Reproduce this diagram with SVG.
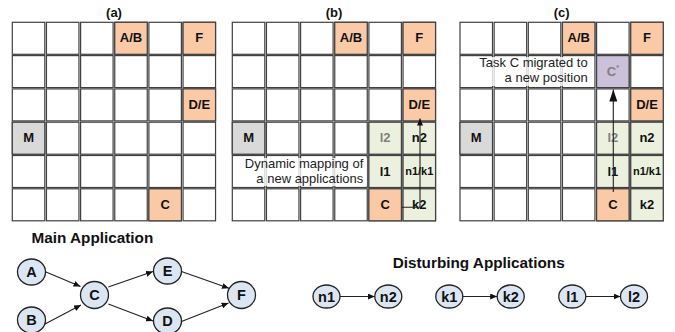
<svg xmlns="http://www.w3.org/2000/svg" xmlns:xlink="http://www.w3.org/1999/xlink" width="675" height="332" viewBox="0 0 675 332">
  <style>
    .cell { fill: #ffffff; stroke: #404040; stroke-width: 1.2; }
    .task { fill: #fac9a6; }
    .mgr { fill: #d9d9d9; }
    .dist { fill: #ebf1de; }
    .mig { fill: #ccc1da; }
    .lbl { font-family: "Liberation Sans", Arial, sans-serif; font-weight: bold; font-size: 13px; text-anchor: middle; fill: #111111; }
    .small { font-size: 11px; }
    .grey { fill: #808080; }
    .title { font-family: "Liberation Sans", Arial, sans-serif; font-weight: bold; font-size: 13px; text-anchor: middle; fill: #111111; }
    .note { font-family: "Liberation Sans", Arial, sans-serif; font-size: 13px; text-anchor: end; fill: #222222; }
    .veil { fill: #ffffff; opacity: 0.8; }
    .head { font-family: "Liberation Sans", Arial, sans-serif; font-weight: bold; font-size: 15.3px; fill: #111111; }
    .node { fill: #dce6f2; stroke: #222222; stroke-width: 1.3; }
    .nlbl { font-family: "Liberation Sans", Arial, sans-serif; font-weight: bold; font-size: 14.5px; text-anchor: middle; fill: #111111; }
    .edge { stroke: #222222; stroke-width: 1.1; fill: none; }
  </style>
  <defs>
    <marker id="arr" markerUnits="userSpaceOnUse" markerWidth="8" markerHeight="6" refX="7" refY="3" orient="auto">
      <path d="M0,0 L7,3 L0,6 z" fill="#111111"/>
    </marker>
    <marker id="arrBig" markerUnits="userSpaceOnUse" markerWidth="13" markerHeight="8" refX="12" refY="4" orient="auto">
      <path d="M0,0 L12,4 L0,8 z" fill="#111111"/>
    </marker>
    <!-- one 6x6 mesh of white tiles -->
    <g id="mesh">
      <rect class="cell" x="0" y="0" width="32.5" height="32"/>
      <rect class="cell" x="34.15" y="0" width="32.5" height="32"/>
      <rect class="cell" x="68.3" y="0" width="32.5" height="32"/>
      <rect class="cell" x="102.45" y="0" width="32.5" height="32"/>
      <rect class="cell" x="136.6" y="0" width="32.5" height="32"/>
      <rect class="cell" x="170.75" y="0" width="32.5" height="32"/>
      <rect class="cell" x="0" y="33.3" width="32.5" height="32"/>
      <rect class="cell" x="34.15" y="33.3" width="32.5" height="32"/>
      <rect class="cell" x="68.3" y="33.3" width="32.5" height="32"/>
      <rect class="cell" x="102.45" y="33.3" width="32.5" height="32"/>
      <rect class="cell" x="136.6" y="33.3" width="32.5" height="32"/>
      <rect class="cell" x="170.75" y="33.3" width="32.5" height="32"/>
      <rect class="cell" x="0" y="66.6" width="32.5" height="32"/>
      <rect class="cell" x="34.15" y="66.6" width="32.5" height="32"/>
      <rect class="cell" x="68.3" y="66.6" width="32.5" height="32"/>
      <rect class="cell" x="102.45" y="66.6" width="32.5" height="32"/>
      <rect class="cell" x="136.6" y="66.6" width="32.5" height="32"/>
      <rect class="cell" x="170.75" y="66.6" width="32.5" height="32"/>
      <rect class="cell" x="0" y="99.9" width="32.5" height="32"/>
      <rect class="cell" x="34.15" y="99.9" width="32.5" height="32"/>
      <rect class="cell" x="68.3" y="99.9" width="32.5" height="32"/>
      <rect class="cell" x="102.45" y="99.9" width="32.5" height="32"/>
      <rect class="cell" x="136.6" y="99.9" width="32.5" height="32"/>
      <rect class="cell" x="170.75" y="99.9" width="32.5" height="32"/>
      <rect class="cell" x="0" y="133.2" width="32.5" height="32"/>
      <rect class="cell" x="34.15" y="133.2" width="32.5" height="32"/>
      <rect class="cell" x="68.3" y="133.2" width="32.5" height="32"/>
      <rect class="cell" x="102.45" y="133.2" width="32.5" height="32"/>
      <rect class="cell" x="136.6" y="133.2" width="32.5" height="32"/>
      <rect class="cell" x="170.75" y="133.2" width="32.5" height="32"/>
      <rect class="cell" x="0" y="166.5" width="32.5" height="32"/>
      <rect class="cell" x="34.15" y="166.5" width="32.5" height="32"/>
      <rect class="cell" x="68.3" y="166.5" width="32.5" height="32"/>
      <rect class="cell" x="102.45" y="166.5" width="32.5" height="32"/>
      <rect class="cell" x="136.6" y="166.5" width="32.5" height="32"/>
      <rect class="cell" x="170.75" y="166.5" width="32.5" height="32"/>
    </g>
  </defs>

  <rect x="0" y="0" width="675" height="332" fill="#ffffff"/>

  <!-- panel (a): initial mapping -->
  <g id="panel-a">
    <text class="title" x="114" y="16.5">(a)</text>
    <use xlink:href="#mesh" href="#mesh" x="12.3" y="22.3"/>
    <rect class="cell task" x="114.75" y="22.3" width="32.5" height="32"/>
    <text class="lbl" x="131" y="42.3">A/B</text>
    <rect class="cell task" x="183.05" y="22.3" width="32.5" height="32"/>
    <text class="lbl" x="199.3" y="42.3">F</text>
    <rect class="cell task" x="183.05" y="88.9" width="32.5" height="32"/>
    <text class="lbl" x="199.3" y="108.9">D/E</text>
    <rect class="cell mgr" x="12.3" y="122.2" width="32.5" height="32"/>
    <text class="lbl" x="28.55" y="142.2">M</text>
    <rect class="cell task" x="148.9" y="188.8" width="32.5" height="32"/>
    <text class="lbl" x="165.15" y="208.8">C</text>
  </g>

  <!-- panel (b): disturbing applications mapped -->
  <g id="panel-b">
    <text class="title" x="334" y="16.5">(b)</text>
    <use xlink:href="#mesh" href="#mesh" x="232.3" y="22.3"/>
    <rect class="cell task" x="334.75" y="22.3" width="32.5" height="32"/>
    <text class="lbl" x="351" y="42.3">A/B</text>
    <rect class="cell task" x="403.05" y="22.3" width="32.5" height="32"/>
    <text class="lbl" x="419.3" y="42.3">F</text>
    <rect class="cell task" x="403.05" y="88.9" width="32.5" height="32"/>
    <text class="lbl" x="419.3" y="108.9">D/E</text>
    <rect class="cell mgr" x="232.3" y="122.2" width="32.5" height="32"/>
    <text class="lbl" x="248.55" y="142.2">M</text>
    <rect class="cell dist" x="368.9" y="122.2" width="32.5" height="32"/>
    <text class="lbl grey" x="385.15" y="142.2">l2</text>
    <rect class="cell dist" x="403.05" y="122.2" width="32.5" height="32"/>
    <text class="lbl" x="419.3" y="142.2">n2</text>
    <rect class="cell dist" x="368.9" y="155.5" width="32.5" height="32"/>
    <text class="lbl" x="385.15" y="175.5">l1</text>
    <rect class="cell dist" x="403.05" y="155.5" width="32.5" height="32"/>
    <text class="lbl small" x="419.3" y="175">n1/k1</text>
    <rect class="cell task" x="368.9" y="188.8" width="32.5" height="32"/>
    <text class="lbl" x="385.15" y="208.8">C</text>
    <rect class="cell dist" x="403.05" y="188.8" width="32.5" height="32"/>
    <text class="lbl" x="419.3" y="208.8">k2</text>
    <rect class="veil" x="243" y="158" width="124" height="28"/>
    <text class="note" x="363.3" y="167.7">Dynamic mapping of</text>
    <text class="note" x="363.3" y="182.7">a new applications</text>
  </g>

  <!-- panel (c): task C migrated -->
  <g id="panel-c">
    <text class="title" x="561.6" y="16.5">(c)</text>
    <use xlink:href="#mesh" href="#mesh" x="460" y="22.3"/>
    <rect class="cell task" x="562.45" y="22.3" width="32.5" height="32"/>
    <text class="lbl" x="578.7" y="42.3">A/B</text>
    <rect class="cell task" x="630.75" y="22.3" width="32.5" height="32"/>
    <text class="lbl" x="647" y="42.3">F</text>
    <rect class="cell mig" x="596.6" y="55.6" width="32.5" height="32"/>
    <text class="lbl grey" x="612.85" y="75.6">C<tspan font-size="7" dy="-6">*</tspan></text>
    <rect class="cell task" x="630.75" y="88.9" width="32.5" height="32"/>
    <text class="lbl" x="647" y="108.9">D/E</text>
    <rect class="cell mgr" x="460" y="122.2" width="32.5" height="32"/>
    <text class="lbl" x="476.25" y="142.2">M</text>
    <rect class="cell dist" x="596.6" y="122.2" width="32.5" height="32"/>
    <text class="lbl grey" x="612.85" y="142.2">l2</text>
    <rect class="cell dist" x="630.75" y="122.2" width="32.5" height="32"/>
    <text class="lbl" x="647" y="142.2">n2</text>
    <rect class="cell dist" x="596.6" y="155.5" width="32.5" height="32"/>
    <text class="lbl" x="612.85" y="175.5">l1</text>
    <rect class="cell dist" x="630.75" y="155.5" width="32.5" height="32"/>
    <text class="lbl small" x="647" y="175">n1/k1</text>
    <rect class="cell task" x="596.6" y="188.8" width="32.5" height="32"/>
    <text class="lbl" x="612.85" y="208.8">C</text>
    <rect class="cell dist" x="630.75" y="188.8" width="32.5" height="32"/>
    <text class="lbl" x="647" y="208.8">k2</text>
    <rect class="veil" x="478" y="57" width="112" height="29"/>
    <text class="note" x="587.7" y="66.7">Task C migrated to</text>
    <text class="note" x="587.7" y="81.7">a new position</text>
  </g>

  <!-- main application task graph -->
  <text class="head" x="31.5" y="243.3">Main Application</text>
  <g id="node-A"><ellipse class="node" cx="31.5" cy="272" rx="14" ry="13"/><text class="nlbl" x="31.5" y="277">A</text></g>
  <g id="node-B"><ellipse class="node" cx="31.5" cy="320" rx="14" ry="13"/><text class="nlbl" x="31.5" y="325">B</text></g>
  <g id="node-C"><ellipse class="node" cx="94.5" cy="295" rx="14" ry="13.5"/><text class="nlbl" x="94.5" y="300">C</text></g>
  <g id="node-E"><ellipse class="node" cx="167.5" cy="271" rx="14" ry="13"/><text class="nlbl" x="167.5" y="276">E</text></g>
  <g id="node-D"><ellipse class="node" cx="167.5" cy="321" rx="14" ry="13"/><text class="nlbl" x="167.5" y="326">D</text></g>
  <g id="node-F"><ellipse class="node" cx="241.5" cy="295" rx="14" ry="13.5"/><text class="nlbl" x="241.5" y="300">F</text></g>

  <!-- disturbing applications -->
  <text class="head" x="392.7" y="267.7">Disturbing Applications</text>
  <g id="node-n1"><ellipse class="node" cx="326.5" cy="296.5" rx="13.5" ry="11.5"/><text class="nlbl" x="326.5" y="301.5">n1</text></g>
  <g id="node-n2"><ellipse class="node" cx="388.3" cy="296.5" rx="13.5" ry="11.5"/><text class="nlbl" x="388.3" y="301.5">n2</text></g>
  <g id="node-k1"><ellipse class="node" cx="449.3" cy="296.5" rx="13.5" ry="11.5"/><text class="nlbl" x="449.3" y="301.5">k1</text></g>
  <g id="node-k2"><ellipse class="node" cx="510.7" cy="296.5" rx="13.5" ry="11.5"/><text class="nlbl" x="510.7" y="301.5">k2</text></g>
  <g id="node-l1"><ellipse class="node" cx="572.3" cy="296.5" rx="13.5" ry="11.5"/><text class="nlbl" x="572.3" y="301.5">l1</text></g>
  <g id="node-l2"><ellipse class="node" cx="634" cy="296.5" rx="13.5" ry="11.5"/><text class="nlbl" x="634" y="301.5">l2</text></g>

  <!-- connectors -->
  <g id="connectors">
    <line class="edge" x1="46" y1="272" x2="80.5" y2="286.5" marker-end="url(#arr)"/>
    <line class="edge" x1="45" y1="324" x2="81" y2="305" marker-end="url(#arr)"/>
    <line class="edge" x1="108.3" y1="287" x2="153" y2="271.5" marker-end="url(#arr)"/>
    <line class="edge" x1="108.3" y1="304" x2="153" y2="321" marker-end="url(#arr)"/>
    <line class="edge" x1="181.5" y1="271.5" x2="229" y2="288.3" marker-end="url(#arr)"/>
    <line class="edge" x1="181.5" y1="321.5" x2="228.5" y2="303" marker-end="url(#arr)"/>
    <line class="edge" x1="340" y1="296.5" x2="374.8" y2="296.5" marker-end="url(#arr)"/>
    <line class="edge" x1="462.8" y1="296.5" x2="497.2" y2="296.5" marker-end="url(#arr)"/>
    <line class="edge" x1="585.8" y1="296.5" x2="620.5" y2="296.5" marker-end="url(#arr)"/>
    <polyline class="edge" points="401.5,207.3 420,207.3 420,118.5" marker-end="url(#arr)"/>
    <line class="edge" x1="613.3" y1="192" x2="613.3" y2="89.5" stroke-width="1.3" marker-end="url(#arrBig)"/>
  </g>
</svg>
